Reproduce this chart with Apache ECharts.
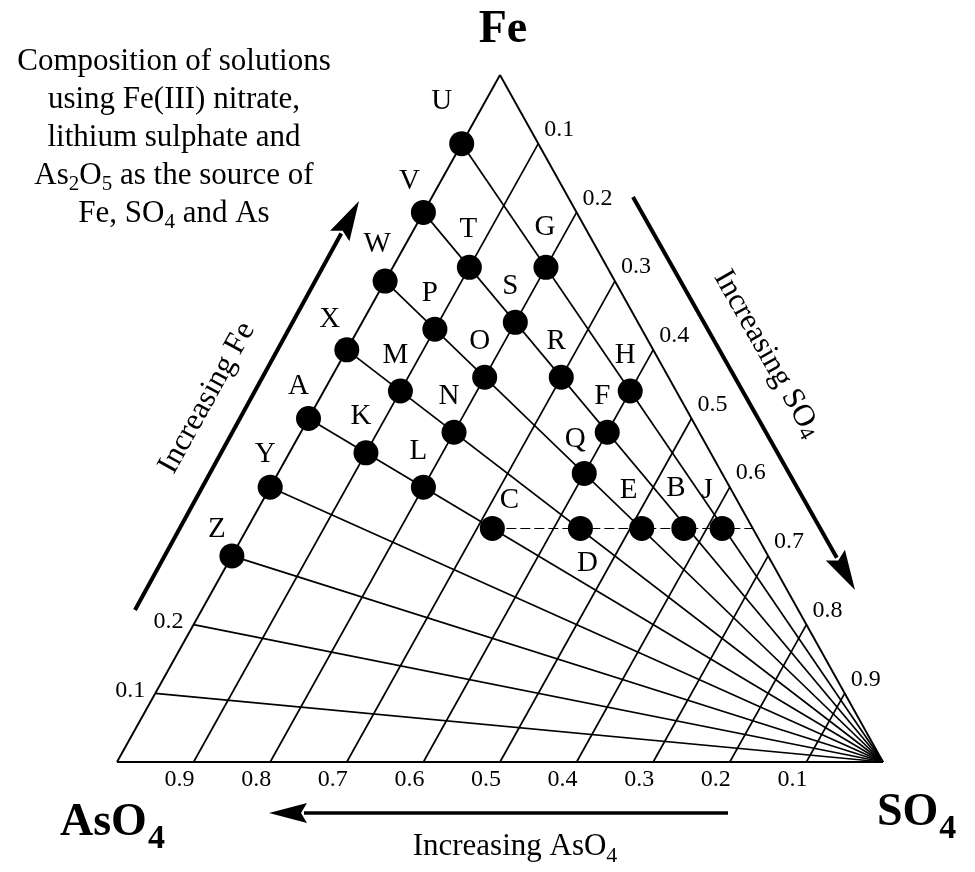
<!DOCTYPE html>
<html>
<head>
<meta charset="utf-8">
<script src="https://cdn.jsdelivr.net/npm/echarts@6/dist/echarts.min.js"></script>
<style>
html,body{margin:0;padding:0;background:#ffffff;}
#chart{width:975px;height:872px;}
</style>
</head>
<body>
<div id="chart"></div>
<script>
// ---------------- DATA ----------------
const pointNames = ['U','V','W','X','A','Y','Z','T','P','M','K','G','S','O','N','L','R','H','F','Q','C','D','E','B','J'];
const feValues   = [0.90,0.80,0.70,0.60,0.50,0.40,0.30,0.72,0.63,0.54,0.45,0.72,0.64,0.56,0.48,0.40,0.56,0.54,0.48,0.42,0.34,0.34,0.34,0.34,0.34];
const aso4Values = [0.10,0.20,0.30,0.40,0.50,0.60,0.70,0.18,0.27,0.36,0.45,0.08,0.16,0.24,0.32,0.40,0.14,0.06,0.12,0.18,0.34,0.225,0.145,0.09,0.04];
const so4Values  = [0.00,0.00,0.00,0.00,0.00,0.00,0.00,0.10,0.10,0.10,0.10,0.20,0.20,0.20,0.20,0.20,0.30,0.40,0.40,0.40,0.32,0.435,0.515,0.57,0.62];

// grid: fan lines start on the Fe–AsO4 edge at these Fe fractions and run to the SO4 corner
const fanFeStarts = [0.1,0.2,0.3,0.4,0.5,0.6,0.7,0.8,0.9];
// grid: lines of constant SO4
const so4GridValues = [0.1,0.2,0.3,0.4,0.5,0.6,0.7,0.8,0.9];
// tick labels
const so4TickLabels  = ['0.1','0.2','0.3','0.4','0.5','0.6','0.7','0.8','0.9'];
const aso4TickLabels = ['0.9','0.8','0.7','0.6','0.5','0.4','0.3','0.2','0.1'];
const feTickLabels   = ['0.1','0.2'];
// dashed row of constant Fe (from point C to the Fe–SO4 edge)
const dashedRowFe = 0.34;
const dashedRowAso4From = 0.34;
const dashedRowAso4To = 0.0;

// ---------------- HELPERS ----------------
// ternary (Fe, AsO4, SO4) -> cartesian (x, y) in [0,1]; AsO4 corner bottom-left, SO4 bottom-right, Fe top
function tern(fe, aso4, so4) { return [so4 + fe / 2, fe]; }

const labelOffsets = {
  U:[-20,-42], V:[-14,-31], W:[-8,-37], X:[-17,-30], A:[-10,-32], Y:[-5,-33], Z:[-15,-27],
  E:[-13,-38], J:[-15,-38], B:[-8,-40], C:[17,-28], D:[7,35], Q:[-9,-34], G:[-1,-40], T:[-1,-38]
};
const FONT = '"Liberation Serif", "Times New Roman", serif';

function textWidth(txt, font) {
  const ctx = document.createElement('canvas').getContext('2d');
  ctx.font = font;
  return ctx.measureText(txt).width;
}

// ---------------- SERIES DATA ----------------
const gridSegs = [];
fanFeStarts.forEach(f => gridSegs.push({coords:[tern(f, 1 - f, 0), tern(0, 0, 1)]}));
so4GridValues.forEach(s => gridSegs.push({coords:[tern(0, 1 - s, s), tern(1 - s, 0, s)]}));
const edgeSegs = [
  {coords:[tern(0,1,0), tern(0,0,1)]},
  {coords:[tern(0,0,1), tern(1,0,0)]},
  {coords:[tern(1,0,0), tern(0,1,0)]}
];
const dashedSegs = [{coords:[
  tern(dashedRowFe, dashedRowAso4From, 1 - dashedRowFe - dashedRowAso4From),
  tern(dashedRowFe, dashedRowAso4To, 1 - dashedRowFe - dashedRowAso4To)
]}];

const pointData = pointNames.map((n, i) => ({
  name: n,
  value: tern(feValues[i], aso4Values[i], so4Values[i]),
  label: {offset: labelOffsets[n] || [-5,-36]}
}));

const tickData = [];
so4TickLabels.forEach(t => { const s = parseFloat(t); tickData.push({name:t, value:tern(1 - s, 0, s), label:{offset:[21,-14]}}); });
aso4TickLabels.forEach(t => { const a = parseFloat(t); tickData.push({name:t, value:tern(0, a, 1 - a), label:{offset:[-14,18]}}); });
feTickLabels.forEach(t => { const f = parseFloat(t); tickData.push({name:t, value:tern(f, 1 - f, 0), label:{offset:[-25,-3]}}); });

// ---------------- ANNOTATION GRAPHICS ----------------
function arrow(x1, y1, x2, y2, w, hl, hw) {
  const dx = x2 - x1, dy = y2 - y1, L = Math.hypot(dx, dy);
  const ux = dx / L, uy = dy / L, nx = -uy, ny = ux;
  const bx = x2 - ux * hl, by = y2 - uy * hl;
  return [
    {type:'line', silent:true, shape:{x1:x1, y1:y1, x2:bx + ux * 3, y2:by + uy * 3}, style:{stroke:'#000', lineWidth:w}},
    {type:'polygon', silent:true, shape:{points:[[x2,y2],[bx + nx*hw, by + ny*hw],[bx + ux*6, by + uy*6],[bx - nx*hw, by - ny*hw]]}, style:{fill:'#000'}}
  ];
}

const BIG = 'bold 46px ' + FONT;
const BIGSUB = 'bold 34px ' + FONT;
const NORM = '31px ' + FONT;
const NORMSUB = '22px ' + FONT;
const asoW = textWidth('AsO', BIG);
const soW = textWidth('SO', BIG);
const incW = textWidth('Increasing AsO', NORM);
const incSubW = textWidth('4', NORMSUB);
const incLeft = 515 - (incW + incSubW) / 2;

const graphics = [].concat(
  arrow(135, 610, 359, 201, 4, 40, 11),
  arrow(633, 197, 855, 590, 4, 40, 11),
  arrow(728, 813, 269, 813, 3.5, 38, 10),
  [
    {type:'text', silent:true, x:503, y:30, style:{text:'Fe', font:BIG, fill:'#000', align:'center', verticalAlign:'middle'}},
    {type:'text', silent:true, x:60, y:823, style:{text:'AsO', font:BIG, fill:'#000', align:'left', verticalAlign:'middle'}},
    {type:'text', silent:true, x:60 + asoW + 1, y:839, style:{text:'4', font:BIGSUB, fill:'#000', align:'left', verticalAlign:'middle'}},
    {type:'text', silent:true, x:877, y:813, style:{text:'SO', font:BIG, fill:'#000', align:'left', verticalAlign:'middle'}},
    {type:'text', silent:true, x:877 + soW + 1, y:829, style:{text:'4', font:BIGSUB, fill:'#000', align:'left', verticalAlign:'middle'}},
    {type:'text', silent:true, x:incLeft, y:847, style:{text:'Increasing AsO', font:NORM, fill:'#000', align:'left', verticalAlign:'middle'}},
    {type:'text', silent:true, x:incLeft + incW, y:856, style:{text:'4', font:NORMSUB, fill:'#000', align:'left', verticalAlign:'middle'}},
    {type:'text', silent:true, x:207, y:398, rotation:61 * Math.PI / 180, style:{
      text:'Increasing Fe', font:NORM, fill:'#000', align:'center', verticalAlign:'middle'}},
    {type:'text', silent:true, x:767, y:354, rotation:-60.5 * Math.PI / 180, style:{
      text:'{m|Increasing SO}{s|4}', align:'center', verticalAlign:'middle',
      rich:{m:{font:NORM, fill:'#000', lineHeight:34}, s:{font:NORMSUB, fill:'#000', lineHeight:24, verticalAlign:'bottom'}}}},
    {type:'text', silent:true, x:174, y:138, style:{
      text:'Composition of solutions\nusing Fe(III) nitrate,\nlithium sulphate and\nAs{s|2}O{s|5} as the source of\nFe, SO{s|4} and As',
      font:NORM, fill:'#000', lineHeight:38, align:'center', verticalAlign:'middle',
      rich:{s:{font:'21px ' + FONT, fill:'#000', lineHeight:17, verticalAlign:'bottom'}}}}
  ]
);

// ---------------- CHART ----------------
const chart = echarts.init(document.getElementById('chart'), null, {renderer:'canvas'});
chart.setOption({
  animation:false,
  backgroundColor:'#ffffff',
  grid:{left:117, right:92, top:75, bottom:110, containLabel:false},
  xAxis:{type:'value', min:0, max:1, show:false},
  yAxis:{type:'value', min:0, max:1, show:false},
  series:[
    {type:'lines', coordinateSystem:'cartesian2d', silent:true, clip:false, z:1,
     lineStyle:{color:'#000', width:1.7, opacity:1}, data:gridSegs},
    {type:'lines', coordinateSystem:'cartesian2d', silent:true, clip:false, z:1,
     lineStyle:{color:'#000', width:1.9, opacity:1}, data:edgeSegs},
    {type:'lines', coordinateSystem:'cartesian2d', silent:true, clip:false, z:1,
     lineStyle:{color:'#000', width:1, opacity:1, type:[10,4]}, data:dashedSegs},
    {type:'scatter', silent:true, clip:false, z:3, symbol:'circle', symbolSize:25,
     itemStyle:{color:'#000', opacity:1},
     label:{show:true, position:'inside', formatter:'{b}', color:'#000', fontFamily:FONT, fontSize:29},
     data:pointData},
    {type:'scatter', silent:true, clip:false, z:2, symbolSize:0,
     itemStyle:{opacity:1},
     label:{show:true, position:'inside', formatter:'{b}', color:'#000', fontFamily:FONT, fontSize:24},
     data:tickData}
  ],
  graphic:graphics
});
</script>
</body>
</html>
